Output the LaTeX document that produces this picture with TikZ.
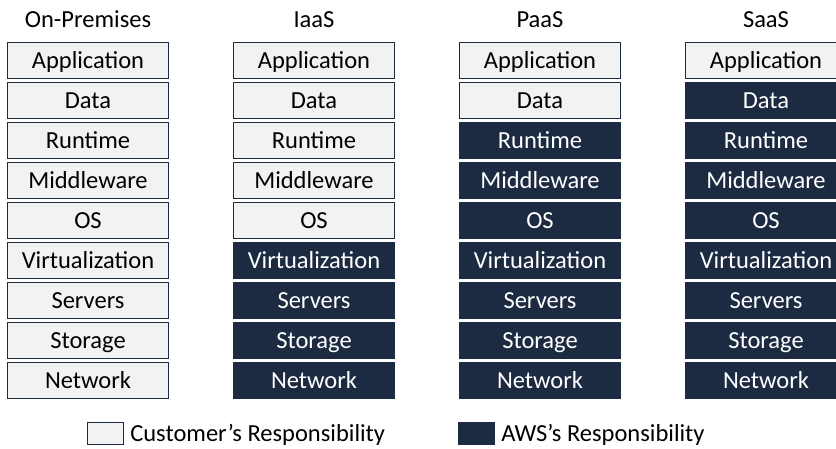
\documentclass[tikz,border=0pt]{standalone}
\usepackage{fontspec}
\setmainfont{Carlito}
\usetikzlibrary{positioning}
\definecolor{aws_navy}{RGB}{28, 43, 65}
\definecolor{cust_grey}{RGB}{242, 242, 242}

\begin{document}
\begin{tikzpicture}[
    x=1pt, y=-1pt,
    every node/.style={font=\fontsize{24.5}{29}\selectfont},
    custbox/.style={draw=aws_navy, line width=1.4pt, fill=cust_grey,
                minimum width=160.5pt, minimum height=36pt,
                text height=16pt, text depth=0pt, inner sep=0pt},
    awsbox/.style={custbox, fill=aws_navy, text=white},
    head/.style={anchor=base, inner sep=0pt},
    legsq/.style={minimum width=36pt, minimum height=22pt, inner sep=0pt,
                line width=1.2pt},
    legtxt/.style={inner sep=0pt, text height=16pt, text depth=0pt},
]
\useasboundingbox (0,0) rectangle (836,448);
\clip (0,0) rectangle (836,448);

% column headings
\node[head] (onprem-title) at (88,  27) {On-Premises};
\node[head] (iaas-title)   at (314, 27) {IaaS};
\node[head] (paas-title)   at (540, 27) {PaaS};
\node[head] (saas-title)   at (766, 27) {SaaS};

% the stacks: first \ncust layers are the customer's, the rest AWS's
\foreach \colname/\xc/\ncust in {onprem/88/9, iaas/314/5, paas/540/2, saas/766/1} {
  \foreach \lbl [count=\i] in {Application, Data, Runtime, Middleware, OS,
                               Virtualization, Servers, Storage, Network} {
    \ifnum\i>\ncust \def\sty{awsbox}\else\def\sty{custbox}\fi
    \node[style=\sty] (\colname-\i) at (\xc, {60.5+40*(\i-1)}) {\lbl};
  }
}

% legend
\node[legsq, draw=aws_navy, fill=cust_grey] (legcust) at (105.5, 433.5) {};
\node[legtxt, right=6pt of legcust] (legcusttxt) {Customer’s Responsibility};
\node[legsq, draw=aws_navy, fill=aws_navy] (legaws) at (476.5, 433.5) {};
\node[legtxt, right=6pt of legaws] (legawstxt) {AWS’s Responsibility};
\end{tikzpicture}
\end{document}
